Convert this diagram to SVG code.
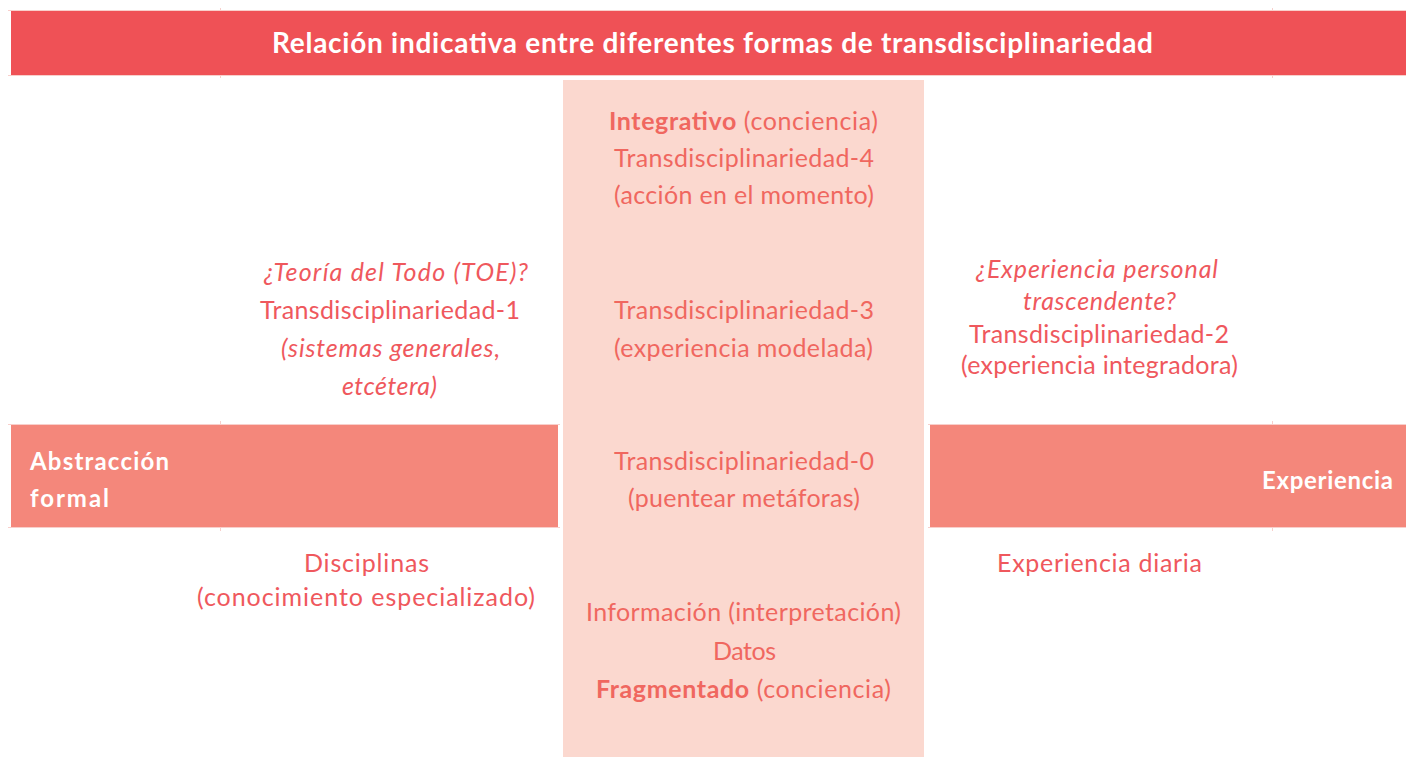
<svg xmlns="http://www.w3.org/2000/svg" width="1406" height="757" viewBox="0 0 1406 757">
<style>
text{font-family:Lato,"Noto Sans","Liberation Sans",sans-serif;font-size:25px;}
.side{fill:#EF585D;}
.ctr{fill:#F0675F;}
.it{font-style:italic;}
.b{font-weight:bold;}
.white{fill:#FFFFFF;font-weight:bold;}
.grid{stroke:#F8CFCB;stroke-width:1;fill:none;}
</style>
<rect width="1406" height="757" fill="#FFFFFF"/>
<g id="grid" class="grid">
<line x1="8" y1="10.5" x2="1406" y2="10.5"/>
<line x1="8" y1="75.5" x2="1406" y2="75.5"/>
<line x1="8" y1="424.5" x2="560" y2="424.5"/>
<line x1="8" y1="527.5" x2="560" y2="527.5"/>
<line x1="928" y1="424.5" x2="1406" y2="424.5"/>
<line x1="928" y1="527.5" x2="1406" y2="527.5"/>
<line x1="220.5" y1="8" x2="220.5" y2="13"/>
<line x1="220.5" y1="73" x2="220.5" y2="78"/>
<line x1="220.5" y1="421" x2="220.5" y2="426"/>
<line x1="220.5" y1="526" x2="220.5" y2="531"/>
<line x1="1272.5" y1="8" x2="1272.5" y2="13"/>
<line x1="1272.5" y1="73" x2="1272.5" y2="78"/>
<line x1="1272.5" y1="421" x2="1272.5" y2="426"/>
<line x1="1272.5" y1="526" x2="1272.5" y2="531"/>
</g>
<g id="title">
<rect x="11" y="11" width="1395" height="64" fill="#EF5156"/>
<text x="272" y="53" class="white" style="font-size:28px" textLength="881" lengthAdjust="spacing">Relación indicativa entre diferentes formas de transdisciplinariedad</text>
</g>
<g id="center-column">
<rect x="563" y="80" width="361" height="677" fill="#FBD8CF"/>
</g>
<g id="abstraccion">
<rect x="11" y="425" width="547" height="102" fill="#F4877B"/>
<text x="30" y="470" class="white" style="font-size:24px" textLength="139" lengthAdjust="spacing">Abstracción</text>
<text x="30" y="507" class="white" style="font-size:24px" textLength="79" lengthAdjust="spacing">formal</text>
</g>
<g id="experiencia">
<rect x="930" y="425" width="476" height="102" fill="#F4877B"/>
<text x="1262" y="489" class="white" style="font-size:24px" textLength="131" lengthAdjust="spacing">Experiencia</text>
</g>
<g id="integrativo">
<text x="609" y="130" class="ctr" textLength="269" lengthAdjust="spacing"><tspan class="b">Integrativo</tspan> (conciencia)</text>
<text x="614" y="167" class="ctr" textLength="260" lengthAdjust="spacing">Transdisciplinariedad-4</text>
<text x="614" y="204" class="ctr" textLength="260" lengthAdjust="spacing">(acción en el momento)</text>
</g>
<g id="td3">
<text x="614" y="319" class="ctr" textLength="260" lengthAdjust="spacing">Transdisciplinariedad-3</text>
<text x="614" y="357" class="ctr" textLength="259" lengthAdjust="spacing">(experiencia modelada)</text>
</g>
<g id="td0">
<text x="614" y="470" class="ctr" textLength="260" lengthAdjust="spacing">Transdisciplinariedad-0</text>
<text x="628" y="507" class="ctr" textLength="232" lengthAdjust="spacing">(puentear metáforas)</text>
</g>
<g id="fragmentado">
<text x="586" y="621" class="ctr" textLength="315" lengthAdjust="spacing">Información (interpretación)</text>
<text x="713" y="660" class="ctr" textLength="63" lengthAdjust="spacing">Datos</text>
<text x="596" y="698" class="ctr" textLength="295" lengthAdjust="spacing"><tspan class="b">Fragmentado</tspan> (conciencia)</text>
</g>
<g id="td1">
<text x="264" y="281" class="side it" textLength="264" lengthAdjust="spacing">¿Teoría del Todo (TOE)?</text>
<text x="260" y="319" class="side" textLength="260" lengthAdjust="spacing">Transdisciplinariedad-1</text>
<text x="281" y="357" class="side it" textLength="219" lengthAdjust="spacing">(sistemas generales,</text>
<text x="342" y="395" class="side it" textLength="95" lengthAdjust="spacing">etcétera)</text>
</g>
<g id="td2">
<text x="976" y="278" class="side it" textLength="242" lengthAdjust="spacing">¿Experiencia personal</text>
<text x="1023" y="310" class="side it" textLength="153" lengthAdjust="spacing">trascendente?</text>
<text x="969" y="343" class="side" textLength="260" lengthAdjust="spacing">Transdisciplinariedad-2</text>
<text x="961" y="374" class="side" textLength="277" lengthAdjust="spacing">(experiencia integradora)</text>
</g>
<g id="disciplinas">
<text x="304" y="572" class="side" textLength="125" lengthAdjust="spacing">Disciplinas</text>
<text x="197" y="606" class="side" textLength="338" lengthAdjust="spacing">(conocimiento especializado)</text>
</g>
<g id="diaria">
<text x="997" y="572" class="side" textLength="205" lengthAdjust="spacing">Experiencia diaria</text>
</g>
<g id="connectors"/>
</svg>
